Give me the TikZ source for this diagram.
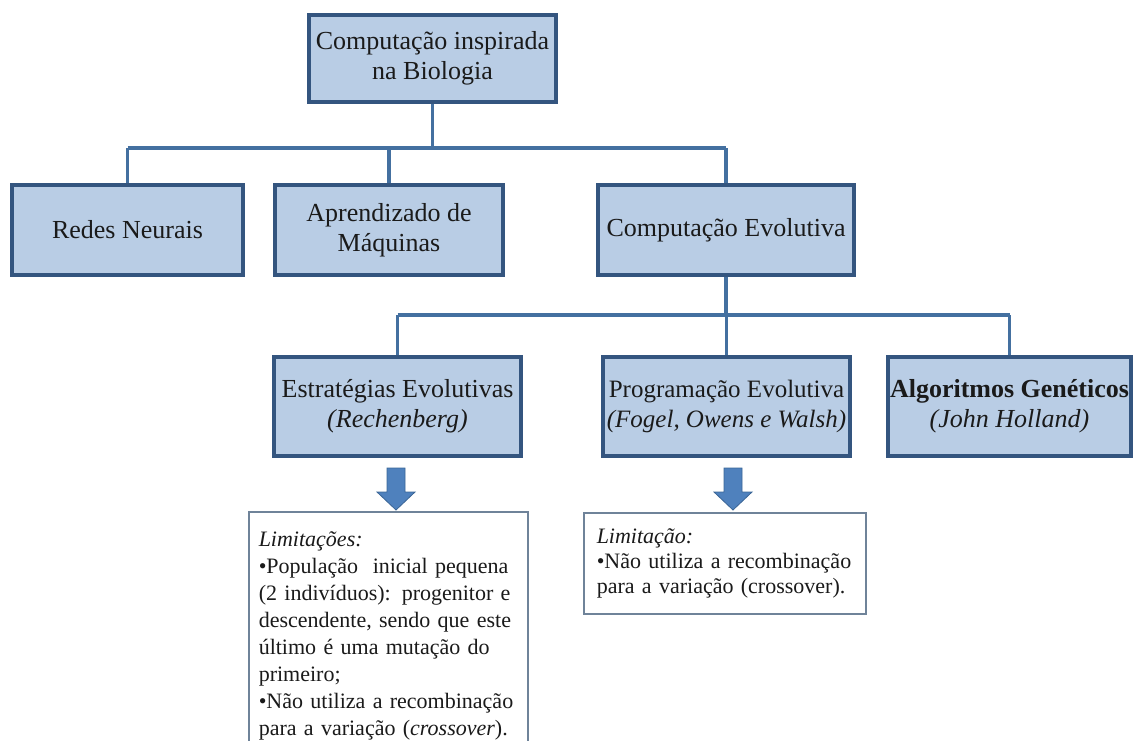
\documentclass[tikz,border=0pt]{standalone}
\usepackage{fontspec}
\setmainfont{Liberation Serif}
\usetikzlibrary{calc}
\definecolor{boxfill}{HTML}{B9CDE5}
\definecolor{boxline}{HTML}{34557F}
\definecolor{conn}{HTML}{4470A0}
\definecolor{notel}{HTML}{6F8399}
\definecolor{arrfill}{HTML}{4F81BD}
\definecolor{arrline}{HTML}{3A6596}
\definecolor{txt}{HTML}{1A1A1A}
\begin{document}
\begin{tikzpicture}[x=1pt,y=-1pt,
  hbox/.style={draw=boxline, fill=boxfill, line width=4pt, rectangle, align=center,
    inner xsep=0pt, inner ysep=2pt, text=txt, font=\fontsize{26}{30}\selectfont},
  link/.style={draw=conn, line width=3.5pt},
  note/.style={draw=notel, line width=1.5pt, fill=white, rectangle, align=left,
    text=txt, anchor=north west},
  blockarrow/.style={fill=arrfill, draw=arrline, line width=0.8pt, line join=miter}
]
\useasboundingbox (0,0) rectangle (1134,740);

% level 0
\node[hbox, minimum width=247, minimum height=87] (top) at (432.5,58) {Computação inspirada\\na Biologia};
% level 1
\node[hbox, minimum width=231, minimum height=90] (redes) at (127.5,230) {Redes Neurais};
\node[hbox, minimum width=228, minimum height=90] (aprend) at (389,230) {Aprendizado de\\Máquinas};
\node[hbox, minimum width=256, minimum height=90] (ce) at (726,230) {Computação Evolutiva};
% level 2
\node[hbox, minimum width=247, minimum height=99] (estrat) at (397.5,406.5) {Estratégias Evolutivas\\\textit{(Rechenberg)}};
\node[hbox, minimum width=247, minimum height=99] (prog) at (726.5,406.5) {\fontsize{25}{30}\selectfont Programação Evolutiva\\\fontsize{25}{30}\selectfont\textit{(Fogel, Owens e Walsh)}};
\node[hbox, minimum width=243, minimum height=99] (alg) at (1009.5,406.5) {\textbf{Algoritmos Genéticos}\\\textit{(John Holland)}};

% connectors level 0 -> 1
\coordinate (b1) at (432.5,148);
\draw[link] (top.south) -- (b1);
\draw[link] (b1 -| redes.north) -- (b1 -| ce.north);
\draw[link] (b1 -| redes.north) -- (redes.north);
\draw[link] (b1 -| aprend.north) -- (aprend.north);
\draw[link] (b1 -| ce.north) -- (ce.north);

% connectors level 1 -> 2
\coordinate (b2) at (726,315);
\draw[link] (ce.south) -- (b2);
\draw[link] (b2 -| estrat.north) -- (b2 -| alg.north);
\draw[link] (b2 -| estrat.north) -- (estrat.north);
\draw[link] (b2 -| prog.north) -- (prog.north);
\draw[link] (b2 -| alg.north) -- (alg.north);

% notes
\node[note, text width=259, inner xsep=10, inner ysep=20,
  font=\fontsize{22}{27}\selectfont] (lim1) at (248,511) {%
\textit{Limitações:}\\
\makebox[\linewidth][s]{•População\ \ inicial pequena}\\
\makebox[\linewidth][s]{(2 indivíduos): progenitor e}\\
\makebox[\linewidth][s]{descendente, sendo que este}\\
último é uma mutação do\\
primeiro;\\
•Não utiliza a recombinação\\
para a variação (\textit{crossover}).};

\node[note, text width=256, inner xsep=13, inner ysep=9, minimum height=101,
  font=\fontsize{22}{25}\selectfont] (lim2) at (583,512) {%
\textit{Limitação:}\\
•Não utiliza a recombinação\\
para a variação (crossover).};

% block arrows
\coordinate (ar1) at (396,468);
\coordinate (ar2) at (733,468);
\draw[blockarrow] (ar1) ++(-9,0) -- ++(18,0) -- ++(0,24) -- ++(10,0) -- ++(-19,18) -- ++(-19,-18) -- ++(10,0) -- cycle;
\draw[blockarrow] (ar2) ++(-9,0) -- ++(18,0) -- ++(0,24) -- ++(10,0) -- ++(-19,18) -- ++(-19,-18) -- ++(10,0) -- cycle;
\end{tikzpicture}
\end{document}
